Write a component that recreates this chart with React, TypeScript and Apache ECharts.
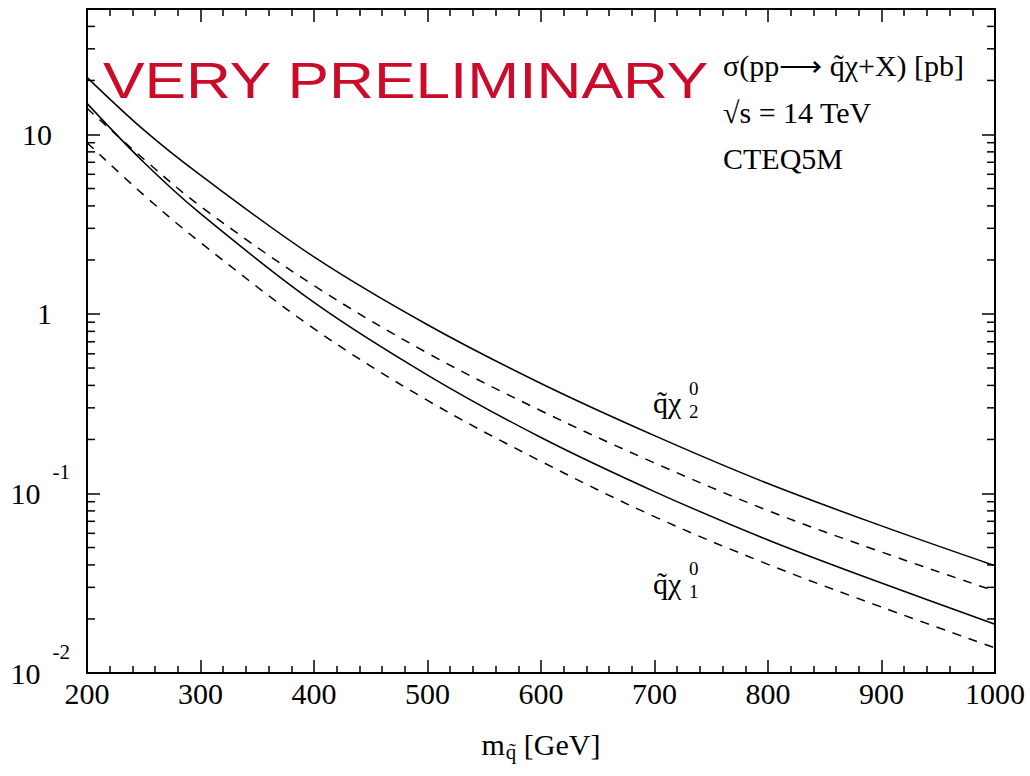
import React, { useEffect, useRef } from 'react';
import * as echarts from 'echarts';

// squark mass [GeV]
const massGeV = [200, 250, 300, 400, 500, 600, 700, 800, 900, 1000];
// cross sections [pb]
const upperSolid = [20.8, 10.6, 5.93, 2.08, 0.871, 0.41, 0.21, 0.1136, 0.066, 0.0396];
const upperDashed = [14.0, 7.3, 3.98, 1.44, 0.606, 0.289, 0.148, 0.0803, 0.0472, 0.0286];
const lowerSolid = [14.9, 7.0, 3.62, 1.16, 0.457, 0.205, 0.1025, 0.0551, 0.0317, 0.0187];
const lowerDashed = [9.0, 4.6, 2.5, 0.828, 0.33, 0.151, 0.0743, 0.0403, 0.0233, 0.0138];

const yMinorTicks = [
  0.02, 0.03, 0.04, 0.05, 0.06, 0.07, 0.08, 0.09,
  0.2, 0.3, 0.4, 0.5, 0.6, 0.7, 0.8, 0.9,
  2, 3, 4, 5, 6, 7, 8, 9,
  20, 30, 40,
];

const X_MIN = 200;
const X_MAX = 1000;
const X_STEP = 100;
const Y_MIN = 0.01;
const Y_MAX = 50;

const SERIF = '"Liberation Serif", "Times New Roman", serif';
const SANS = '"Liberation Sans", Arial, sans-serif';

export default function App() {
  const ref = useRef<HTMLDivElement>(null);

  useEffect(() => {
    if (!ref.current) return;
    const chart = echarts.init(ref.current, null, { renderer: 'svg' });

    const axisLine = { show: true, onZero: false, lineStyle: { color: '#000', width: 2 } };
    const tickStyle = { color: '#000', width: 1.5 };

    const mkLine = (data: number[], dashed: boolean) => ({
      type: 'line',
      xAxisIndex: 0,
      yAxisIndex: 0,
      showSymbol: false,
      smooth: 0.35,
      silent: true,
      lineStyle: { color: '#000', width: 1.5, type: dashed ? [9, 8] : 'solid' },
      data: massGeV.map((m, i) => [m, data[i]]),
    });

    const yLabelFormatter = (v: number) => {
      const e = Math.log10(v);
      const r = Math.round(e);
      if (Math.abs(e - r) > 1e-6) return '';
      if (r >= 0) return `{c|${Math.round(Math.pow(10, r))}}`;
      return `{b|10}{s|${r}}`;
    };

    const option: any = {
      animation: false,
      backgroundColor: '#fff',
      grid: { left: 87, right: 35, top: 9, bottom: 103, containLabel: false },
      xAxis: [
        {
          type: 'value',
          min: X_MIN,
          max: X_MAX,
          interval: X_STEP,
          position: 'bottom',
          axisLine,
          axisTick: { show: true, inside: true, length: 13, lineStyle: tickStyle },
          minorTick: { show: true, splitNumber: 5, length: 7, lineStyle: tickStyle },
          splitLine: { show: false },
          axisLabel: { fontSize: 30, fontFamily: SERIF, color: '#000', margin: 5, formatter: (v: number) => String(v) },
          name: '{m|m}{s|q\u0303}{n| [GeV]}',
          nameLocation: 'middle',
          nameGap: 56,
          nameTextStyle: {
            rich: {
              m: { fontSize: 30, fontFamily: SERIF, color: '#000', lineHeight: 30, verticalAlign: 'top' },
              s: { fontSize: 21, fontFamily: SERIF, color: '#000', lineHeight: 21, padding: [12, 0, 0, 1], verticalAlign: 'top' },
              n: { fontSize: 30, fontFamily: SERIF, color: '#000', lineHeight: 30, verticalAlign: 'top' },
            },
          },
        },
        {
          type: 'value',
          min: X_MIN,
          max: X_MAX,
          interval: X_STEP,
          position: 'top',
          axisLine,
          axisTick: { show: true, inside: true, length: 13, lineStyle: tickStyle },
          minorTick: { show: true, splitNumber: 5, length: 7, lineStyle: tickStyle },
          splitLine: { show: false },
          axisLabel: { show: false },
        },
      ],
      yAxis: [
        {
          type: 'log',
          logBase: 10,
          min: Y_MIN,
          max: Y_MAX,
          position: 'left',
          axisLine,
          axisTick: { show: true, inside: true, length: 13, lineStyle: tickStyle },
          splitLine: { show: false },
          axisLabel: {
            margin: 17,
            formatter: yLabelFormatter,
            rich: {
              b: { fontSize: 30, fontFamily: SERIF, color: '#000', lineHeight: 64, verticalAlign: 'middle' },
              c: { fontSize: 30, fontFamily: SERIF, color: '#000', lineHeight: 64, padding: [0, 18, 0, 0], verticalAlign: 'middle' },
              s: { fontSize: 21, fontFamily: SERIF, color: '#000', lineHeight: 21, padding: [0, 0, 0, 12], verticalAlign: 'top' },
            },
          },
        },
        {
          type: 'log',
          logBase: 10,
          min: Y_MIN,
          max: Y_MAX,
          position: 'right',
          axisLine,
          axisTick: { show: true, inside: true, length: 13, lineStyle: tickStyle },
          splitLine: { show: false },
          axisLabel: { show: false },
        },
      ],
      series: [
        mkLine(upperSolid, false),
        mkLine(upperDashed, true),
        mkLine(lowerSolid, false),
        mkLine(lowerDashed, true),
        {
          type: 'custom',
          xAxisIndex: 0,
          yAxisIndex: 0,
          silent: true,
          clip: false,
          data: yMinorTicks.map((v) => [X_MIN, v]),
          renderItem: (_params: any, api: any) => {
            const v = api.value(1);
            const l = api.coord([X_MIN, v]);
            const r = api.coord([X_MAX, v]);
            return {
              type: 'group',
              children: [
                { type: 'line', shape: { x1: l[0], y1: l[1], x2: l[0] + 8, y2: l[1] }, style: { stroke: '#000', lineWidth: 1.5 } },
                { type: 'line', shape: { x1: r[0] - 8, y1: r[1], x2: r[0], y2: r[1] }, style: { stroke: '#000', lineWidth: 1.5 } },
              ],
            };
          },
        },
      ],
      graphic: [
        {
          type: 'text',
          x: 103,
          y: 81,
          scaleX: 1.245,
          style: { text: 'VERY PRELIMINARY', fontSize: 50, fontFamily: SANS, fill: '#cc0a2a', align: 'left', verticalAlign: 'middle' },
        },
        {
          type: 'text',
          x: 723,
          y: 65,
          style: { text: '\u03c3(pp\u27f6 q\u0303\u03c7+X) [pb]', fontSize: 30, fontFamily: SERIF, fill: '#000', align: 'left', verticalAlign: 'middle' },
        },
        {
          type: 'text',
          x: 723,
          y: 112,
          style: { text: '\u221as = 14 TeV', fontSize: 30, fontFamily: SERIF, fill: '#000', align: 'left', verticalAlign: 'middle' },
        },
        {
          type: 'text',
          x: 723,
          y: 158,
          style: { text: 'CTEQ5M', fontSize: 30, fontFamily: SERIF, fill: '#000', align: 'left', verticalAlign: 'middle' },
        },
        // curve labels
        { type: 'text', x: 653, y: 402, style: { text: 'q\u0303\u03c7', fontSize: 30, fontFamily: SERIF, fill: '#000', align: 'left', verticalAlign: 'middle' } },
        { type: 'text', x: 689, y: 388, style: { text: '0', fontSize: 19, fontFamily: SERIF, fill: '#000', align: 'left', verticalAlign: 'middle' } },
        { type: 'text', x: 689, y: 411, style: { text: '2', fontSize: 19, fontFamily: SERIF, fill: '#000', align: 'left', verticalAlign: 'middle' } },
        { type: 'text', x: 653, y: 583, style: { text: 'q\u0303\u03c7', fontSize: 30, fontFamily: SERIF, fill: '#000', align: 'left', verticalAlign: 'middle' } },
        { type: 'text', x: 689, y: 568, style: { text: '0', fontSize: 19, fontFamily: SERIF, fill: '#000', align: 'left', verticalAlign: 'middle' } },
        { type: 'text', x: 689, y: 591, style: { text: '1', fontSize: 19, fontFamily: SERIF, fill: '#000', align: 'left', verticalAlign: 'middle' } },
      ],
    };

    chart.setOption(option);
    return () => chart.dispose();
  }, []);

  return (
    <div
      ref={ref}
      style={{ position: 'fixed', left: 0, top: 0, width: 1030, height: 776, background: '#fff' }}
    />
  );
}
